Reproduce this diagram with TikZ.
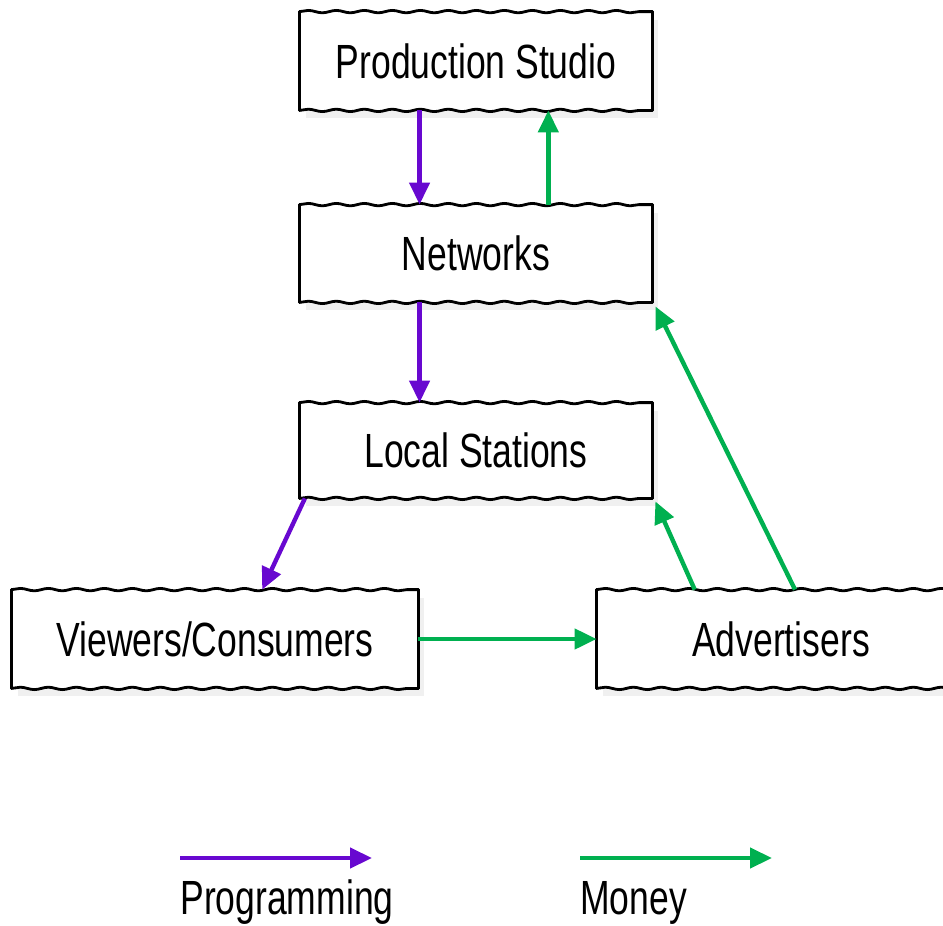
\documentclass[tikz,border=0pt]{standalone}
\usepackage{fontspec}
\setmainfont{Liberation Sans}[FakeStretch=0.74]
\usetikzlibrary{calc,arrows.meta,decorations.pathmorphing,shadows}
\definecolor{prog}{RGB}{104,8,208}
\definecolor{money}{RGB}{0,176,80}
\tikzset{
  box/.style={draw=none, fill=white, inner sep=0pt,
    font=\fontsize{24}{26}\selectfont,
    drop shadow={opacity=0.12, shadow xshift=3pt, shadow yshift=-4pt}},
  edgeline/.style={draw=black, line width=1.4pt, line cap=round},
  wavy/.style={decorate, decoration={snake, amplitude=0.6pt, segment length=14pt}},
  progarrow/.style={draw=prog, line width=2.2pt, -{Triangle[length=11pt,width=10pt]}},
  moneyarrow/.style={draw=money, line width=2.2pt, -{Triangle[length=11pt,width=10pt]}},
  legendtext/.style={font=\fontsize{24}{26}\selectfont, inner sep=0pt}
}
\newcommand{\sketchborder}[1]{%
  \draw[edgeline,wavy] (#1.north west) -- (#1.north east);
  \draw[edgeline,wavy] (#1.south west) -- (#1.south east);
  \draw[edgeline] (#1.north west) -- (#1.south west);
  \draw[edgeline] (#1.north east) -- (#1.south east);}
\begin{document}
\begin{tikzpicture}[x=0.5pt,y=-0.5pt]
\useasboundingbox (0,0) rectangle (943,926);
\node[box, minimum width=176pt, minimum height=49pt] (ps) at (476,61) {Production Studio};
\node[box, minimum width=176pt, minimum height=48.5pt] (nw) at (476,253.5) {Networks};
\node[box, minimum width=176pt, minimum height=47.5pt] (lc) at (476,450.5) {Local Stations};
\node[box, minimum width=203pt, minimum height=49pt] (vc) at (215,639) {Viewers/Consumers};
\node[box, minimum width=184pt, minimum height=49pt] (ad) at (781,639) {Advertisers};
\sketchborder{ps}
\sketchborder{nw}
\sketchborder{lc}
\sketchborder{vc}
\sketchborder{ad}

\draw[progarrow] ($(ps.south west)!0.34!(ps.south east)$) -- ($(nw.north west)!0.34!(nw.north east)$);
\draw[moneyarrow] ($(nw.north west)!0.705!(nw.north east)$) -- ($(ps.south west)!0.705!(ps.south east)$);
\draw[progarrow] ($(nw.south west)!0.34!(nw.south east)$) -- ($(lc.north west)!0.34!(lc.north east)$);
\draw[progarrow] ($(lc.south west)!0.015!(lc.south east)$) -- ($(vc.north west)!0.616!(vc.north east)$);
\draw[moneyarrow] (vc.east) -- (ad.west);
\draw[moneyarrow] ($(ad.north west)!0.266!(ad.north east)$) -- ($(lc.south east)+(3,3)$);
\draw[moneyarrow] ($(ad.north west)!0.538!(ad.north east)$) -- ($(nw.south east)+(3,4)$);

\coordinate (pa) at (180,858);
\coordinate (pb) at (372,858);
\coordinate (ma) at (580,858);
\coordinate (mb) at (772,858);
\draw[progarrow] (pa) -- (pb);
\draw[moneyarrow] (ma) -- (mb);
\node[legendtext, anchor=base west] (pl) at (180,914) {Programming};
\node[legendtext, anchor=base west] (ml) at (580,914) {Money};
\end{tikzpicture}
\end{document}
